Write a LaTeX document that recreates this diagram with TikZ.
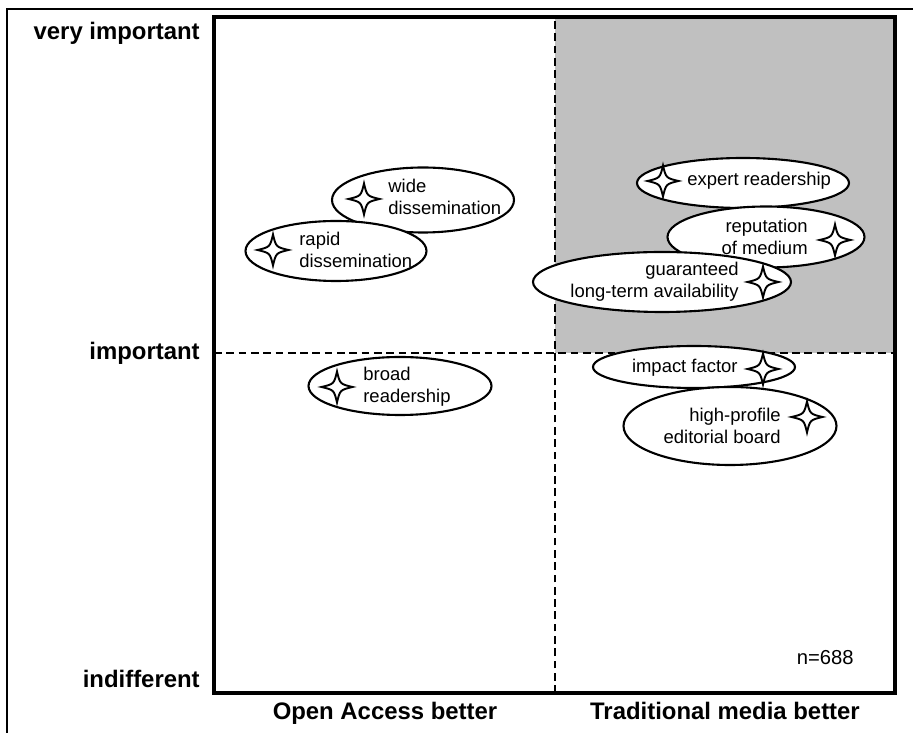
\documentclass[tikz,border=0pt]{standalone}
\usepackage{fontspec}
\setmainfont{Liberation Sans}
\usetikzlibrary{shapes.geometric,positioning}

\definecolor{silver}{RGB}{192,192,192}

\tikzset{
  sparkle/.pic={
    \draw[line width=1.1pt, fill=white] (0,0.31) .. controls (0.06,0.06) .. (0.31,0)
      .. controls (0.06,-0.06) .. (0,-0.31) .. controls (-0.06,-0.06) .. (-0.31,0)
      .. controls (-0.06,0.06) .. cycle;
  }
}

\begin{document}
\begin{tikzpicture}[
        bubble/.style={ellipse, draw, line width=1.2pt, fill=white, inner sep=0pt},
        blabel/.style={inner sep=0pt, font=\fontsize{10.5}{12.5}\selectfont},
        axislabel/.style={inner sep=0pt, font=\fontsize{13.6}{16}\selectfont\bfseries},
        dashline/.style={dash pattern=on 4.4pt off 2.6pt, line width=1.6pt}
        ]
        \useasboundingbox (0,0) rectangle (18.26,14.66);

        % outer frame
        \draw[line width=1.1pt] (0.14,0) -- (0.14,14.48) -- (18.26,14.48);

        % quadrants
        \fill[silver] (11.10,7.60) rectangle (17.90,14.32);
        \draw[dashline] (11.10,0.80) -- (11.10,14.32);
        \draw[dashline] (4.28,7.60) -- (17.90,7.60);
        \draw[line width=2.3pt] (4.28,0.80) rectangle (17.90,14.32);

        % axis labels
        \node[axislabel, anchor=east] (veryimp) at (4.0,14.0) {very important};
        \node[axislabel, anchor=east] (imp) at (4.0,7.60) {important};
        \node[axislabel, anchor=base east] (indiff) at (4.0,0.90) {indifferent};
        \node[axislabel, anchor=base] (oabetter) at (7.70,0.26) {Open Access better};
        \node[axislabel, anchor=base] (tmbetter) at (14.50,0.26) {Traditional media better};
        \node[inner sep=0pt, anchor=base east, font=\fontsize{11.5}{14}\selectfont] (sample) at (17.08,1.36) {n=688};

        % Open Access side
        \node[bubble, minimum width=3.64cm, minimum height=1.30cm] (wide) at (8.46,10.66) {};
        \pic at (7.28,10.68) {sparkle};
        \node[blabel, anchor=west, align=left] (widetxt) at (7.76,10.72) {wide\\dissemination};

        \node[bubble, minimum width=3.62cm, minimum height=1.20cm] (rapid) at (6.72,9.64) {};
        \pic at (5.46,9.66) {sparkle};
        \node[blabel, anchor=west, align=left] (rapidtxt) at (5.98,9.66) {rapid\\dissemination};

        \node[bubble, minimum width=3.66cm, minimum height=1.16cm] (broad) at (8.00,6.94) {};
        \pic at (6.74,6.92) {sparkle};
        \node[blabel, anchor=west, align=left] (broadtxt) at (7.26,6.92) {broad\\readership};

        % Traditional media side
        \node[bubble, minimum width=4.24cm, minimum height=1.00cm] (expert) at (14.86,11.00) {};
        \pic at (13.26,11.04) {sparkle};
        \node[blabel, anchor=west] (experttxt) at (13.74,11.04) {expert readership};

        \node[bubble, minimum width=3.94cm, minimum height=1.22cm] (reput) at (15.32,9.92) {};
        \pic at (16.70,9.86) {sparkle};
        \node[blabel, anchor=east, align=right] (reputtxt) at (16.16,9.92) {reputation\\of medium};

        \node[bubble, minimum width=5.16cm, minimum height=1.20cm] (guarant) at (13.24,9.02) {};
        \pic at (15.26,9.02) {sparkle};
        \node[blabel, anchor=east, align=right] (guaranttxt) at (14.78,9.02) {guaranteed\\long-term availability};

        \node[bubble, minimum width=4.04cm, minimum height=0.84cm] (impact) at (13.88,7.32) {};
        \node[bubble, minimum width=4.26cm, minimum height=1.56cm] (board) at (14.60,6.14) {};
        \pic at (15.26,7.28) {sparkle};
        \node[blabel, anchor=east] (impacttxt) at (14.76,7.30) {impact factor};
        \pic at (16.14,6.32) {sparkle};
        \node[blabel, anchor=east, align=right] (boardtxt) at (15.62,6.14) {high-profile\\editorial board};

\end{tikzpicture}
\end{document}
